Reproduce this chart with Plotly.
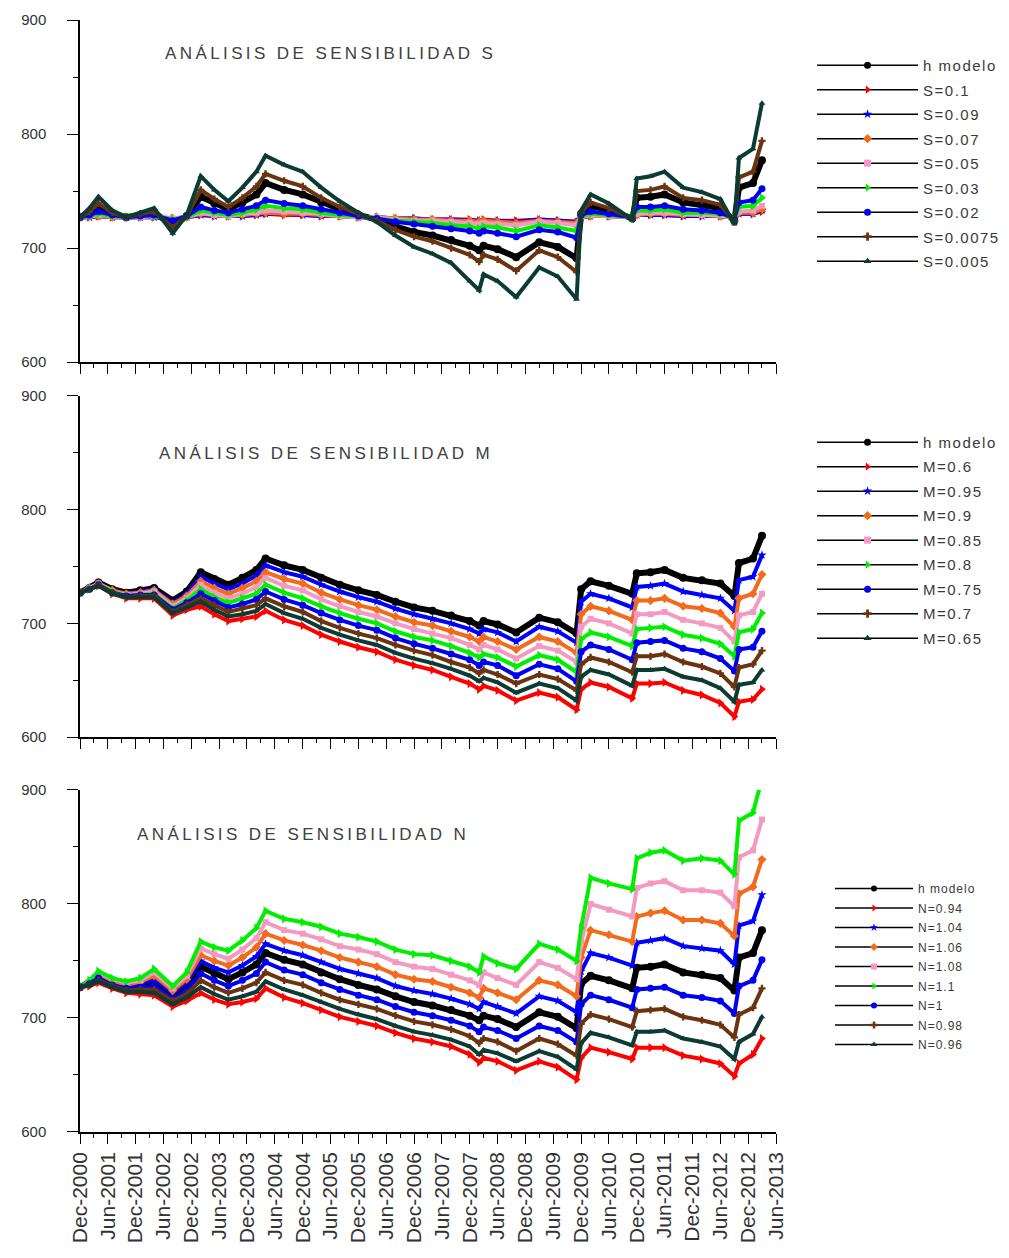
import plotly.graph_objects as go

# ---------------- data ----------------
dates = ["2000-12-01","2001-02-01","2001-04-01","2001-07-01","2001-10-01","2002-01-01","2002-04-01",
         "2002-08-01","2002-11-01","2003-02-01","2003-05-01","2003-08-01","2003-11-01","2004-02-01",
         "2004-04-01","2004-08-01","2004-12-01","2005-04-01","2005-08-01","2005-12-01","2006-04-01",
         "2006-08-01","2006-12-01","2007-04-01","2007-08-01","2007-12-01","2008-02-01","2008-03-01",
         "2008-06-01","2008-10-01","2009-03-01","2009-07-01","2009-11-01","2009-12-01","2010-02-01",
         "2010-06-01","2010-11-01","2010-12-01","2011-03-01","2011-06-01","2011-10-01","2012-02-01",
         "2012-06-01","2012-09-01","2012-10-01","2013-01-01","2013-03-01"]

h_modelo = [727,731,736,730,727,729,731,720,728,745,739,734,740,747,757,751,747,740,734,729,
            725,719,714,711,707,702,698,702,699,692,705,701,691,730,737,733,726,744,745,747,
            740,738,735,724,753,757,777]

# Panel 1: S
s_01    = [727,727,728,727,727,727,727,726,727,729,728,728,728,729,730,729,729,728,728,727,
           727,726,726,725,725,725,724,725,724,724,725,724,723,727,728,728,727,729,729,729,
           728,728,728,727,730,730,732]
s_009   = [727,727,728,727,727,727,727,726,727,729,728,728,728,729,730,730,729,728,728,727,
           727,726,726,725,725,724,724,724,724,723,725,724,723,727,728,728,727,729,729,729,
           728,728,728,727,730,730,733]
s_007   = [727,728,728,727,727,727,728,726,727,730,729,728,729,730,731,730,730,729,728,727,
           727,726,725,725,724,724,723,724,723,722,724,723,722,727,728,728,727,729,730,730,
           729,729,728,727,731,731,734]
s_005   = [727,728,729,728,727,727,728,726,727,731,729,728,730,731,733,732,731,730,728,727,
           727,725,724,724,723,722,721,722,721,720,723,722,720,728,729,728,727,730,731,731,
           730,729,729,726,732,733,737]
s_003   = [727,728,730,728,727,728,728,725,727,733,731,729,731,734,737,735,734,731,729,728,
           726,724,723,722,720,719,717,719,718,715,720,718,715,728,730,729,727,733,733,734,
           731,731,730,726,736,737,744]
s_002   = [727,729,732,729,727,728,729,724,728,736,733,731,734,737,742,739,737,734,731,728,
           726,723,721,719,717,715,713,715,713,710,716,714,709,729,732,730,727,736,736,737,
           734,733,731,726,740,742,752]
s_00075 = [727,732,739,731,727,730,732,718,728,751,743,736,744,754,765,759,754,744,736,730,
           724,716,710,706,700,694,688,694,690,680,698,692,679,731,740,735,726,750,751,754,
           744,742,738,723,762,767,794]
s_0005  = [727,735,745,733,727,731,735,713,729,763,751,741,753,767,781,773,767,753,741,731,
           723,711,701,695,687,671,663,677,671,657,683,675,655,733,747,739,725,761,763,767,
           753,749,743,721,779,787,827]

# Panel 2: M
m_06  = [727,730,733,726,722,722,722,707,712,715,708,702,704,706,711,703,698,690,684,679,
         675,668,663,659,653,647,642,645,641,632,639,635,624,642,648,644,634,647,647,648,
         641,637,630,618,631,633,642]
m_095 = [727,731,736,729,726,728,730,718,726,741,735,730,735,742,751,745,741,734,728,723,
         719,713,708,704,700,695,691,695,692,684,697,693,683,719,726,722,714,732,733,735,
         728,725,722,711,738,741,760]
m_09  = [727,731,735,729,726,727,729,717,724,737,731,726,731,737,745,739,735,727,721,716,
         712,706,701,698,693,688,684,688,684,677,688,684,674,708,715,711,703,720,720,722,
         715,713,709,697,722,726,743]
m_085 = [727,731,735,728,725,726,728,715,722,734,727,722,726,732,740,733,729,721,715,710,
         706,700,695,691,687,681,677,681,677,669,680,676,666,697,704,700,691,708,708,710,
         703,700,696,684,707,710,726]
m_08  = [727,730,734,728,724,725,726,713,720,730,723,718,722,726,734,727,722,715,709,704,
         700,693,688,685,680,674,670,673,670,662,672,668,657,686,692,688,680,695,696,697,
         690,687,682,671,692,695,709]
m_075 = [727,730,734,727,724,725,725,712,718,726,720,714,717,721,728,721,716,709,703,698,
         694,687,682,678,673,668,663,666,663,654,664,660,649,675,681,677,668,683,684,685,
         678,675,669,658,677,679,693]
m_07  = [727,730,734,727,723,724,724,710,716,722,716,710,713,716,722,715,710,702,696,691,
         687,681,676,672,666,661,656,659,655,647,655,651,641,664,670,666,657,671,671,673,
         666,662,656,644,661,664,676]
m_065 = [727,730,733,726,723,723,723,709,714,719,712,706,708,711,717,709,704,696,690,685,
         681,674,669,665,660,654,649,652,648,639,647,643,632,653,659,655,645,659,659,660,
         653,650,643,631,646,648,659]

# Panel 3: N
n_094 = [727,728,731,726,722,721,720,710,715,722,716,712,714,717,726,718,713,707,701,697,
         693,687,682,679,675,668,661,665,662,654,662,657,646,665,674,670,664,674,674,674,
         667,664,660,649,660,668,682]
n_104 = [727,731,737,731,728,730,734,722,731,750,744,740,746,754,765,759,755,749,743,739,
         735,728,724,721,717,712,708,714,710,704,719,715,705,741,757,753,746,766,768,770,
         763,761,759,747,781,785,808]
n_106 = [727,732,738,732,729,732,737,724,734,755,750,746,753,762,774,768,764,759,753,749,
         745,738,734,732,727,722,718,726,722,716,733,729,719,753,777,773,767,789,792,794,
         786,786,783,772,809,815,839]
n_108 = [727,732,740,734,731,733,740,726,737,761,756,752,760,770,784,777,774,769,763,760,
         756,749,745,743,738,733,729,740,735,729,749,744,734,766,800,795,789,814,818,820,
         812,812,810,798,841,847,874]
n_110 = [727,733,741,735,732,735,743,728,740,767,762,759,768,779,794,787,784,780,774,771,
         767,760,756,755,750,745,740,754,748,743,765,760,750,779,823,818,813,840,845,847,
         838,840,838,826,873,880,910]
n_100 = [727,730,735,729,726,727,728,717,724,739,733,728,733,739,749,742,738,731,725,720,
         716,710,705,702,698,693,688,692,689,682,693,689,679,712,720,716,709,725,726,727,
         720,718,715,704,728,733,751]
n_098 = [727,729,733,728,724,725,725,715,721,733,727,722,726,731,740,733,729,722,716,712,
         708,702,697,694,690,684,678,682,679,671,682,677,667,695,703,699,692,706,707,708,
         701,698,694,683,703,709,726]
n_096 = [727,729,732,727,723,723,722,712,718,727,721,716,719,723,732,725,720,714,708,703,
         699,693,688,685,681,675,668,672,669,662,671,666,655,678,687,683,676,688,688,689,
         682,679,675,664,679,686,701]

titles = ["ANÁLISIS DE SENSIBILIDAD S", "ANÁLISIS DE SENSIBILIDAD M", "ANÁLISIS DE SENSIBILIDAD N"]

panel1 = [("h modelo", h_modelo), ("S=0.1", s_01), ("S=0.09", s_009), ("S=0.07", s_007),
          ("S=0.05", s_005), ("S=0.03", s_003), ("S=0.02", s_002), ("S=0.0075", s_00075),
          ("S=0.005", s_0005)]
panel2 = [("h modelo", h_modelo), ("M=0.6", m_06), ("M=0.95", m_095), ("M=0.9", m_09),
          ("M=0.85", m_085), ("M=0.8", m_08), ("M=0.75", m_075), ("M=0.7", m_07),
          ("M=0.65", m_065)]
panel3 = [("h modelo", h_modelo), ("N=0.94", n_094), ("N=1.04", n_104), ("N=1.06", n_106),
          ("N=1.08", n_108), ("N=1.1", n_110), ("N=1", n_100), ("N=0.98", n_098),
          ("N=0.96", n_096)]

# ---------------- styles ----------------
colors  = ["#000000", "#FF0000", "#0000FF", "#F26B1D", "#F49AC1", "#00EE00", "#0000EE", "#6B3410", "#0B3B33"]
symbols = ["circle", "triangle-right", "star", "diamond", "square", "triangle-right", "circle", "cross", "triangle-up"]
msizes  = [8, 8, 7, 7, 6, 8, 7, 6, 6]
lwidths = [6, 4, 4, 4, 4, 4, 4, 4, 4]

FONT = "Liberation Sans, Arial, sans-serif"

fig = go.Figure()

panels = [panel1, panel2, panel3]
axes = [("x", "y", "legend"), ("x2", "y2", "legend2"), ("x3", "y3", "legend3")]
legend_spacing = ["1.5px", "1.5px", "1px"]

for p, (series, (xa, ya, lg)) in enumerate(zip(panels, axes)):
    for i, (name, vals) in enumerate(series):
        fig.add_trace(go.Scatter(
            x=dates, y=vals, mode="lines+markers", xaxis=xa, yaxis=ya,
            line=dict(color=colors[i], width=lwidths[i]),
            marker=dict(color=colors[i], symbol=symbols[i], size=msizes[i]),
            showlegend=False, hoverinfo="x+y+name", name=name))
    for i, (name, vals) in enumerate(series):
        fig.add_trace(go.Scatter(
            x=[None], y=[None], mode="lines+markers", xaxis=xa, yaxis=ya,
            line=dict(color="black", width=1.5),
            marker=dict(color=colors[i], symbol=symbols[i], size=7 if p < 2 else 6),
            name=f'<span style="letter-spacing:{legend_spacing[p]}">{name}</span>',
            legend=lg, legendgroup=f"{lg}_{i}", showlegend=True))

domains = [[0.6924, 1.0], [0.3552, 0.6619], [0.0, 0.3076]]

xcommon = dict(type="date", range=["2000-12-01", "2013-06-01"], tick0="2000-12-01", dtick="M6",
               tickformat="%b-%Y", ticks="outside", ticklen=10, tickwidth=1.3, tickcolor="black",
               showline=True, linecolor="black", linewidth=1.5, showgrid=False, zeroline=False,
               minor=dict(dtick="M3", tick0="2000-12-01", ticks="outside", ticklen=4, tickcolor="black"),
               tickangle=-90, tickfont=dict(family=FONT, size=21, color="#333"))
ycommon = dict(range=[600, 900], tickvals=[600, 700, 800, 900], ticks="outside", ticklen=11,
               tickwidth=1.3, tickcolor="black", showline=True, linecolor="black", linewidth=1.5,
               showgrid=False, zeroline=False, ticklabelstandoff=18,
               minor=dict(tickvals=[650, 750, 850], ticks="outside", ticklen=5, tickcolor="black"),
               tickfont=dict(family=FONT, size=15, color="#333"))

layout = dict(
    width=1009, height=1258, autosize=False,
    margin=dict(l=80, r=233, t=20, b=126),
    paper_bgcolor="white", plot_bgcolor="white",
    font=dict(family=FONT, color="#333"),
)
for k, (xa, ya, lg) in enumerate(axes):
    xname = "xaxis" if k == 0 else f"xaxis{k+1}"
    yname = "yaxis" if k == 0 else f"yaxis{k+1}"
    xd = dict(xcommon)
    xd["anchor"] = ya
    xd["showticklabels"] = (k == 2)
    if k > 0:
        xd["matches"] = "x"
    yd = dict(ycommon)
    yd["anchor"] = xa
    yd["domain"] = domains[k]
    layout[xname] = xd
    layout[yname] = yd

layout["legend"] = dict(xref="container", x=0.8048, y=0.974, xanchor="left", yanchor="top",
                        itemwidth=101, tracegroupgap=2, bgcolor="rgba(0,0,0,0)",
                        font=dict(family=FONT, size=15, color="#3a3a3a"))
layout["legend2"] = dict(xref="container", x=0.8048, y=0.635, xanchor="left", yanchor="top",
                         itemwidth=101, tracegroupgap=2, bgcolor="rgba(0,0,0,0)",
                         font=dict(family=FONT, size=15, color="#3a3a3a"))
layout["legend3"] = dict(xref="container", x=0.8226, y=0.232, xanchor="left", yanchor="top",
                         itemwidth=78, tracegroupgap=0.5, bgcolor="rgba(0,0,0,0)",
                         font=dict(family=FONT, size=12, color="#3a3a3a"))

title_pos = [(0.119, 0.9703), (0.111, 0.6106), (0.079, 0.2671)]
layout["annotations"] = [
    dict(text=f'<span style="letter-spacing:3.4px">{t}</span>', x=px, y=py, xref="paper", yref="paper",
         xanchor="left", yanchor="middle",
         showarrow=False, font=dict(family=FONT, size=17, color="#404040"))
    for t, (px, py) in zip(titles, title_pos)
]

fig.update_layout(**layout)
fig.write_html("out.html")
